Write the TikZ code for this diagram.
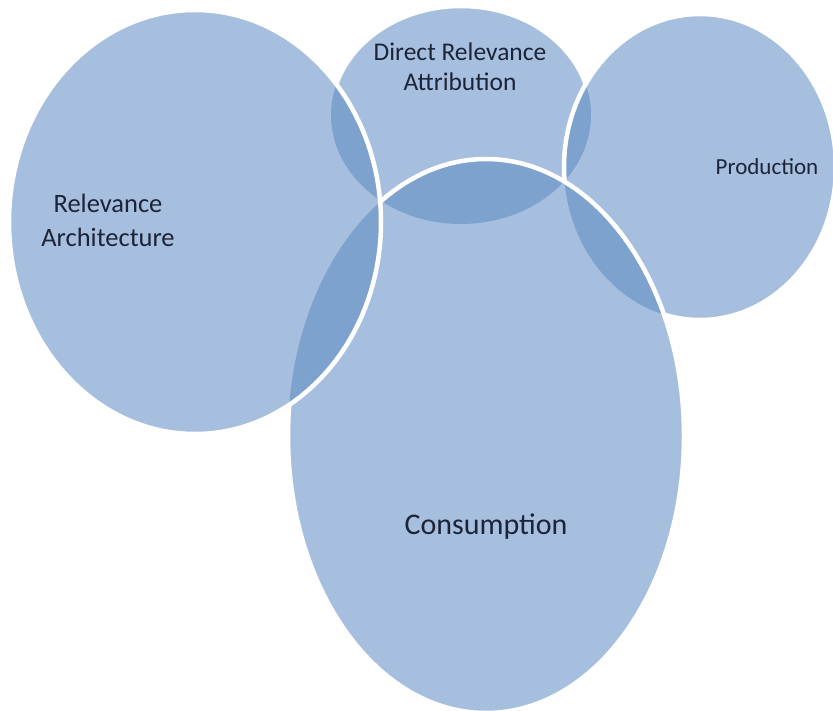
\documentclass[tikz,border=0pt]{standalone}
\usepackage{fontspec}
\setmainfont{Carlito}
\definecolor{bubble}{HTML}{A7BFDE}
\definecolor{overlap}{HTML}{7EA2CE}
\definecolor{labeltext}{HTML}{1C2438}
% ellipse outlines, in pixel-like units
\newcommand\shapeTop{(461,115) ellipse [x radius=130pt, y radius=109pt]}
\newcommand\shapeProd{(700,167) ellipse [x radius=136pt, y radius=153pt]}
\newcommand\shapeCons{(486,436) ellipse [x radius=198pt, y radius=277pt]}
\newcommand\shapeLeft{(195,222) ellipse [x radius=186pt, y radius=212pt]}
\tikzset{
  fillbubble/.style={fill=bubble},
  filloverlap/.style={fill=overlap},
  rim/.style={draw=white, line width=4.5pt},
  lbl/.style={text=labeltext, align=center, inner sep=0pt}
}
\begin{document}
\begin{tikzpicture}[x=1pt,y=-1pt]
\useasboundingbox (0,0) rectangle (833,710);
\fill[white] (0,0) rectangle (833,710);
% bottom layer: Direct Relevance Attribution
\fill[fillbubble] \shapeTop;
\draw[rim] \shapeTop;
% Production
\fill[fillbubble] \shapeProd;
\begin{scope}\clip \shapeProd; \fill[filloverlap] \shapeTop; \end{scope}
\draw[rim] \shapeProd;
% Consumption
\fill[fillbubble] \shapeCons;
\begin{scope}\clip \shapeCons; \fill[filloverlap] \shapeTop; \fill[filloverlap] \shapeProd; \end{scope}
\draw[rim] \shapeCons;
% Relevance Architecture (top layer)
\fill[fillbubble] \shapeLeft;
\begin{scope}\clip \shapeLeft; \fill[filloverlap] \shapeTop; \fill[filloverlap] \shapeCons; \end{scope}
\draw[rim] \shapeLeft;
% labels
\node[lbl, font=\fontsize{25.5}{30}\selectfont] (attr) at (460,67) {Direct Relevance\\Attribution};
\node[lbl, font=\fontsize{23}{28}\selectfont] (prod) at (767,167) {Production};
\node[lbl, font=\fontsize{26.5}{34}\selectfont] (arch) at (108,220) {Relevance\\Architecture};
\node[lbl, font=\fontsize{30}{36}\selectfont] (cons) at (486,527) {Consumption};
\end{tikzpicture}
\end{document}
